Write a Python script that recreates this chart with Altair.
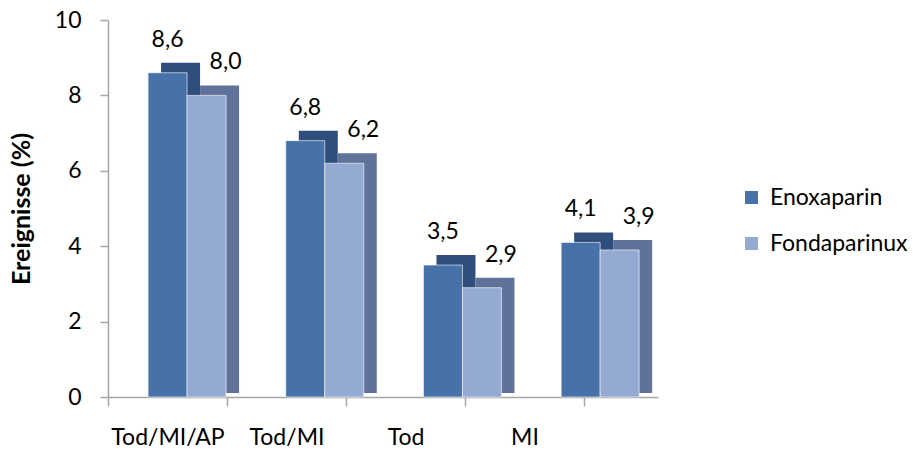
import altair as alt
import pandas as pd

categories = ["Tod/MI/AP", "Tod/MI", "Tod", "MI"]
series = ["Enoxaparin", "Fondaparinux"]
enoxaparin = [8.6, 6.8, 3.5, 4.1]
fondaparinux = [8.0, 6.2, 2.9, 3.9]
y_ticks = [0, 2, 4, 6, 8, 10]

rows = []
for c, e, f in zip(categories, enoxaparin, fondaparinux):
    rows.append({"Kategorie": c, "Serie": series[0], "Wert": e})
    rows.append({"Kategorie": c, "Serie": series[1], "Wert": f})
df = pd.DataFrame(rows)

FONT = "Lato"
FS = 23
GRAY = "#A6A6A6"
front_colors = ["#4672A9", "#95AAD3"]
side_colors = ["#2F4E7C", "#60729A"]

# band scale for the bars (sitting on the 3D floor)
x_bars = alt.X("Kategorie:N", sort=categories,
               scale=alt.Scale(paddingInner=0.4336, paddingOuter=0.214, align=0.68),
               axis=None)
# band scale for the front axis with category labels
x_axis = alt.X("Kategorie:N", sort=categories,
               scale=alt.Scale(paddingInner=0, paddingOuter=0.311, align=0),
               axis=alt.Axis(title=None, labelAngle=0, labelFontSize=FS, labelFont=FONT,
                             labelColor="black", domainColor=GRAY, tickColor=GRAY,
                             tickSize=9, tickBand="extent", labelPadding=20,
                             domainWidth=1.5, tickWidth=1.5))

y_enc = alt.Y("Wert:Q", scale=alt.Scale(domain=[0, 10], nice=False),
              axis=alt.Axis(title="Ereignisse (%)", values=y_ticks, grid=False,
                            labelFontSize=FS, labelFont=FONT, labelColor="black",
                            titleFont=FONT, titleFontSize=25, titleFontWeight="bold",
                            titleColor="black", titleX=-74,
                            domainColor=GRAY, tickColor=GRAY, tickSize=8,
                            labelPadding=19, domainWidth=1.5, tickWidth=1.5))

base = alt.Chart(df)

shadow = base.mark_bar(yOffset=-10, y2Offset=-4).encode(
    x=x_bars,
    xOffset=alt.XOffset("Serie:N", sort=series, scale=alt.Scale(range=[13, 91])),
    y=y_enc,
    y2=alt.datum(0),
    color=alt.Color("Serie:N", sort=series,
                    scale=alt.Scale(domain=series, range=side_colors), legend=None),
)

front = base.mark_bar(stroke="white", strokeWidth=0.6).encode(
    x=x_bars,
    xOffset=alt.XOffset("Serie:N", sort=series, scale=alt.Scale(range=[0, 78])),
    y=y_enc,
    color=alt.Color("Serie:N", sort=series,
                    scale=alt.Scale(domain=series, range=front_colors),
                    legend=alt.Legend(title=None, orient="none", legendX=632, legendY=166,
                                      symbolType="square", symbolSize=170,
                                      symbolStrokeWidth=0, labelFontSize=FS,
                                      labelFont=FONT, labelColor="black",
                                      rowPadding=22, labelOffset=7)),
)

labels = base.mark_text(baseline="middle", dy=-33, fontSize=FS, font=FONT,
                        color="black").transform_calculate(
    txt="replace(format(datum.Wert, '.1f'), '.', ',')"
).encode(
    x=x_bars,
    xOffset=alt.XOffset("Serie:N", sort=series, scale=alt.Scale(range=[-9.5, 106.5])),
    y=y_enc, text="txt:N")

bars = alt.layer(shadow, front, labels).resolve_scale(color="independent",
                                                      xOffset="independent")

axis_layer = base.mark_point(opacity=0).encode(x=x_axis, y=y_enc)

chart = alt.layer(bars, axis_layer).resolve_scale(x="independent").properties(
    width=550, height=377,
    background="white",
    autosize=alt.AutoSizeParams(type="none"),
    padding={"left": 108, "top": 20, "right": 260, "bottom": 55},
).configure_view(strokeWidth=0, stroke="transparent")

chart.save("out.html", embed_options={"renderer": "svg", "actions": False})
